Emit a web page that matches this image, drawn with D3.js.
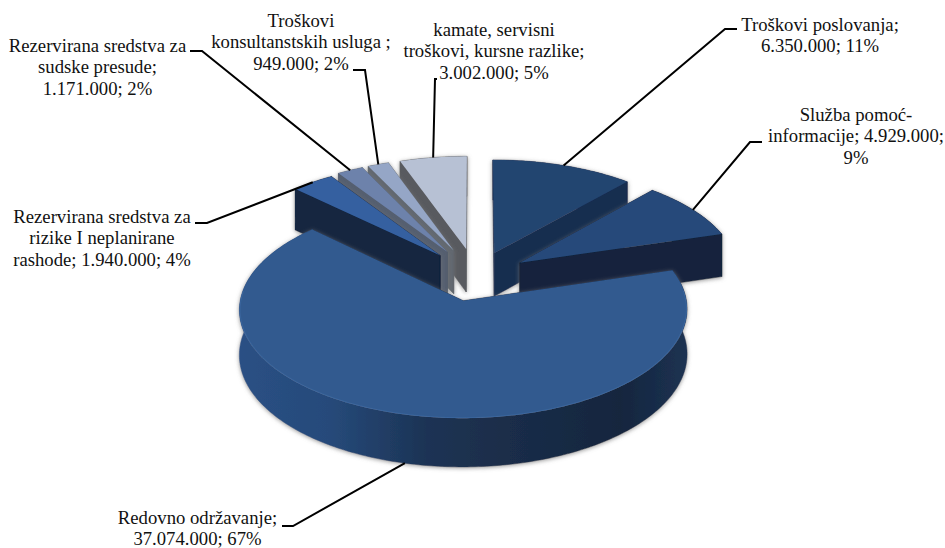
<!DOCTYPE html>
<html><head><meta charset="utf-8">
<script src="https://cdn.jsdelivr.net/npm/d3@7/dist/d3.min.js"></script>
<style>html,body{margin:0;padding:0;background:#fff;overflow:hidden}svg{display:block}
text{font-family:"Liberation Serif","Times New Roman",serif;font-size:18.7px;fill:#111;text-anchor:middle}</style>
</head><body><svg id="c" width="945" height="548"></svg>
<script>
// ---- data ----
const categories = ["Troškovi poslovanja","Služba pomoć-informacije","Redovno održavanje",
  "Rezervirana sredstva za rizike I neplanirane rashode","Rezervirana sredstva za sudske presude",
  "Troškovi konsultanstskih usluga","kamate, servisni troškovi, kursne razlike"];
const values = [6350000,4929000,37074000,1940000,1171000,949000,3002000];
const percents = [11,9,67,4,2,2,5];
const valueLabels = ["6.350.000","4.929.000","37.074.000","1.940.000","1.171.000","949.000","3.002.000"];
const labelLines = [
  ["Troškovi poslovanja;","6.350.000; 11%"],
  ["Služba pomoć-","informacije; 4.929.000;","9%"],
  ["Redovno održavanje;","37.074.000; 67%"],
  ["Rezervirana sredstva za","rizike I neplanirane","rashode; 1.940.000; 4%"],
  ["Rezervirana sredstva za","sudske presude;","1.171.000; 2%"],
  ["Troškovi","konsultanstskih usluga ;","949.000; 2%"],
  ["kamate, servisni","troškovi, kursne razlike;","3.002.000; 5%"]];
// ---- styles / layout ----
const topColors  = ["#24446f","#27497a","#305a8f","#3560a0","#6d82ab","#95a6c6","#b7c1d4"];
const wallColors = ["#172d50","#13243c","#1a2e4c","#13253f","#555e6f","#62686f","#595a5f"];
const explode    = [.24,.24,.24,.26,.27,.27,.27];
const labelX = [820,856,197.5,102,97.5,301,494];
const labelY = [31,121,523.5,223,52,27,36];
const lineH = 21.3;
const elbows = [[[725,29],[737,29]],[[750,142],[762,142]],[[293,526],[282,526]],
  [[207,223],[195,223]],[[202,51],[190,51]],[[365,70],[353,70]],[[435,79],[437,79]]];
const C = {x:476,y:276}, R = 219, S = 104, K = .0793, D = 44;

const svg = d3.select("#c");
const defs = svg.append("defs");
const f = defs.append("filter").attr("id","sh").attr("x","-10%").attr("y","-10%").attr("width","120%").attr("height","125%");
f.append("feGaussianBlur").attr("in","SourceAlpha").attr("stdDeviation",2.2).attr("result","b");
f.append("feOffset").attr("in","b").attr("dy",1).attr("result","o");
f.append("feFlood").attr("flood-color","#777").attr("flood-opacity",.75);
f.append("feComposite").attr("in2","o").attr("operator","in").attr("result","s");
f.append("feGaussianBlur").attr("in","SourceGraphic").attr("stdDeviation",.45).attr("result","g");
const mm = f.append("feMerge"); mm.append("feMergeNode").attr("in","s"); mm.append("feMergeNode").attr("in","g");

const wg = defs.append("linearGradient").attr("id","bigWall").attr("gradientUnits","userSpaceOnUse")
  .attr("x1",240).attr("x2",687).attr("y1",0).attr("y2",0);
[[0,"#2a5084"],[.2,"#264a7a"],[.42,"#1c3354"],[.6,"#1a2d49"],[.85,"#15263e"],[1,"#1c3252"]]
  .forEach(s=>wg.append("stop").attr("offset",s[0]).attr("stop-color",s[1]));

const pie = d3.pie().sort(null).startAngle(0).endAngle(2*Math.PI);
const arcs = pie(values).map((a,i)=>({...a,i}));
const line = d3.line();

function project(u,v,z){ const w = 1/(1+K*v); return [C.x+R*u*w, C.y-S*v*w+(z?D*w:0)]; }
function pt(a,th,r,z){
  const m=(a.startAngle+a.endAngle)/2, e=explode[a.i];
  return project(e*Math.sin(m)+r*Math.sin(th), e*Math.cos(m)+r*Math.cos(th), z);
}
function thetas(a){ const n=Math.max(8,Math.ceil((a.endAngle-a.startAngle)*60));
  return d3.range(n+1).map(k=>a.startAngle+(a.endAngle-a.startAngle)*k/n); }
function depthOf(a,th){ const m=(a.startAngle+a.endAngle)/2,e=explode[a.i]; return e*Math.cos(m)+.5*Math.cos(th); }

const order = arcs.slice().sort((p,q)=>Math.cos((q.startAngle+q.endAngle)/2)-Math.cos((p.startAngle+p.endAngle)/2));
const gSl = svg.append("g");
order.forEach(a=>{
  const g = gSl.append("g").attr("filter","url(#sh)");
  const ts = thetas(a), big=a.i===2, wc=wallColors[a.i];
  const walls = [];
  [a.startAngle,a.endAngle].forEach(th=>{
    walls.push({d:depthOf(a,th), p:[pt(a,th,0),pt(a,th,1),pt(a,th,1,1),pt(a,th,0,1)], fill:wc});
  });
  const top=ts.map(t=>pt(a,t,1)), bot=ts.map(t=>pt(a,t,1,1)).reverse();
  walls.push({d:big?-9:(Math.cos((a.startAngle+a.endAngle)/2)), p:top.concat(bot), fill:big?"url(#bigWall)":wc});
  walls.sort((x,y)=>y.d-x.d).forEach(w=>g.append("path").attr("d",line(w.p)+"Z").attr("fill",w.fill)
     .attr("stroke",w.fill).attr("stroke-width",.5));
  g.append("path").attr("d",line([pt(a,a.startAngle,0)].concat(top))+"Z").attr("fill",topColors[a.i]);
  if(big){
    const front=ts.filter(t=>Math.cos(t)<.1);
    g.append("path").attr("d",line(front.map(t=>pt(a,t,.997)))).attr("fill","none")
      .attr("stroke","#4c7cb8").attr("stroke-width",1).attr("opacity",.35);
  }
});

// leaders
const gL = svg.append("g").attr("fill","none").attr("stroke","#000").attr("stroke-width",2);
arcs.forEach(a=>{
  const m=(a.startAngle+a.endAngle)/2, big=a.i===2;
  const s=pt(a,m,1,big);
  gL.append("path").attr("d",line([s,...elbows[a.i]]));
});
// labels
const gT = svg.append("g");
labelLines.forEach((ls,i)=>{
  const t=gT.append("text").attr("x",labelX[i]);
  ls.forEach((l,j)=>t.append("tspan").attr("x",labelX[i]).attr("y",labelY[i]+j*lineH).text(l));
});
</script></body></html>
